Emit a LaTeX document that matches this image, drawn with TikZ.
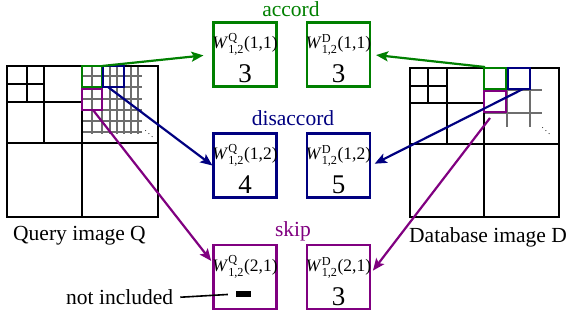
\documentclass[tikz,border=0pt]{standalone}
\usepackage{fontspec}
\setmainfont{Liberation Serif}
\usepackage{amsmath}
\usetikzlibrary{arrows.meta,calc}
\definecolor{cgreen}{RGB}{0,128,0}
\definecolor{cblue}{RGB}{0,0,128}
\definecolor{cpurple}{RGB}{128,0,128}
\definecolor{cgray}{RGB}{110,110,110}
\newcommand{\wlab}[3]{\textit{W}$^{\text{#1}}_{\text{1,2}}$(#2,#3)}
\begin{document}
\begin{tikzpicture}[x=1pt,y=-1pt,
  frame/.style={line width=2.2pt, black},
  gridl/.style={line width=2.2pt, cgray},
  win/.style={line width=2.2pt},
  wbox/.style={draw, line width=2.2pt, minimum width=63pt, minimum height=64pt, inner sep=0pt},
  wtxt/.style={anchor=base, inner sep=0pt, font=\fontsize{17.5}{20}\selectfont},
  ntxt/.style={anchor=base, inner sep=0pt, font=\fontsize{27}{30}\selectfont},
  lbl/.style={anchor=base, inner sep=0pt, font=\fontsize{21.5}{24}\selectfont},
  dotsn/.style={inner sep=0pt, font=\fontsize{9}{9}\selectfont},
  arr/.style={line width=2.2pt, -{Stealth[length=12pt,width=10pt,inset=2.5pt]}},
]
\useasboundingbox (0,0) rectangle (568,320);

% ---------- Query image ----------
\foreach \x in {92,102,110,117,124,131,138} \draw[gridl] (\x,66) -- (\x,134);
\foreach \y in {76,87,99,110,121,132} \draw[gridl] (82,\y) -- (142,\y);
\draw[frame] (7,66) rectangle (158,217);
\draw[frame] (82,66) -- (82,217);
\draw[frame] (7,143) -- (158,143);
\draw[frame] (44,66) -- (44,143);
\draw[frame] (7,102) -- (82,102);
\draw[frame] (27,66) -- (27,102);
\draw[frame] (7,84) -- (44,84);
\draw[win, cgreen] (82,66) rectangle (102,87);
\draw[win, cblue] (103,66) rectangle (124,87);
\draw[win, cpurple] (82,89) rectangle (102,110);
\node[dotsn] (qdots) at (149,131) {$\ddots$};
\node[lbl, anchor=base west] (qlab) at (13,241) {Query image Q};

% ---------- Database image ----------
\foreach \x in {507,530} \draw[gridl] (\x,68) -- (\x,127);
\foreach \y in {90,113} \draw[gridl] (484,\y) -- (542,\y);
\draw[frame] (410,68) rectangle (559,217);
\draw[frame] (484,68) -- (484,217);
\draw[frame] (410,144) -- (559,144);
\draw[frame] (447,68) -- (447,144);
\draw[frame] (410,103) -- (484,103);
\draw[frame] (428,68) -- (428,103);
\draw[frame] (410,86) -- (447,86);
\draw[win, cgreen] (484,68) rectangle (506,89);
\draw[win, cblue] (508,68) rectangle (530,89);
\draw[win, cpurple] (484,91) rectangle (506,112);
\node[dotsn] (ddots) at (546,128) {$\ddots$};
\node[lbl, anchor=base east] (dlab) at (567,243) {Database image D};

% ---------- start points ----------
\coordinate (qgs) at (102,66);
\coordinate (qbs) at (108,87);
\coordinate (qps) at (93,110);
\coordinate (dgs) at (485,67);
\coordinate (dbs) at (523,89);
\coordinate (dps) at (490,118);

% ---------- boxes ----------
\node[wbox, draw=cgreen] (qa) at (245,54.5) {};
\node[wbox, draw=cgreen] (da) at (338.5,54.5) {};
\node[wbox, draw=cblue] (qd) at (245,165.5) {};
\node[wbox, draw=cblue] (dd) at (338.5,165.5) {};
\node[wbox, draw=cpurple] (qs) at (245,277) {};
\node[wbox, draw=cpurple] (ds) at (338.5,277) {};

\node[wtxt] (qaw) at (245,49) {\wlab{Q}{1}{1}};
\node[wtxt] (daw) at (338.5,49) {\wlab{D}{1}{1}};
\node[wtxt] (qdw) at (245,160) {\wlab{Q}{1}{2}};
\node[wtxt] (ddw) at (338.5,160) {\wlab{D}{1}{2}};
\node[wtxt] (qsw) at (245,271.5) {\wlab{Q}{2}{1}};
\node[wtxt] (dsw) at (338.5,271.5) {\wlab{D}{2}{1}};

\node[ntxt] (qan) at (245,83) {3};
\node[ntxt] (dan) at (338.5,83) {3};
\node[ntxt] (qdn) at (245,194) {4};
\node[ntxt] (ddn) at (338.5,194) {5};
\node[ntxt] (dsn) at (338.5,305.5) {3};
\node[fill=black, inner sep=0pt, minimum width=15pt, minimum height=6pt] (dash) at (243.5,294) {};

% ---------- labels ----------
\node[lbl, text=cgreen] (acc) at (291,16.5) {accord};
\node[lbl, text=cblue] (dis) at (293,126) {disaccord};
\node[lbl, text=cpurple] (skp) at (293,237) {skip};
\node[lbl, anchor=base west] (ni) at (66,305) {not included};

% ---------- connectors ----------
\draw[arr, cgreen, shorten >=9pt] (qgs) -- (qa.west);
\draw[arr, cgreen, shorten >=5pt] (dgs) -- (da.east);
\draw[arr, cblue] (qbs) -- (qd.west);
\draw[arr, cblue, shorten >=4pt] (dbs) -- (dd.east);
\draw[arr, cpurple, shorten >=2pt] (qps) -- (qs.156);
\draw[arr, cpurple, shorten >=3pt] (dps) -- (ds.7);
\draw[line width=1.6pt, shorten <=7pt, shorten >=8pt] (ni.east) -- (dash.west);
\end{tikzpicture}
\end{document}
